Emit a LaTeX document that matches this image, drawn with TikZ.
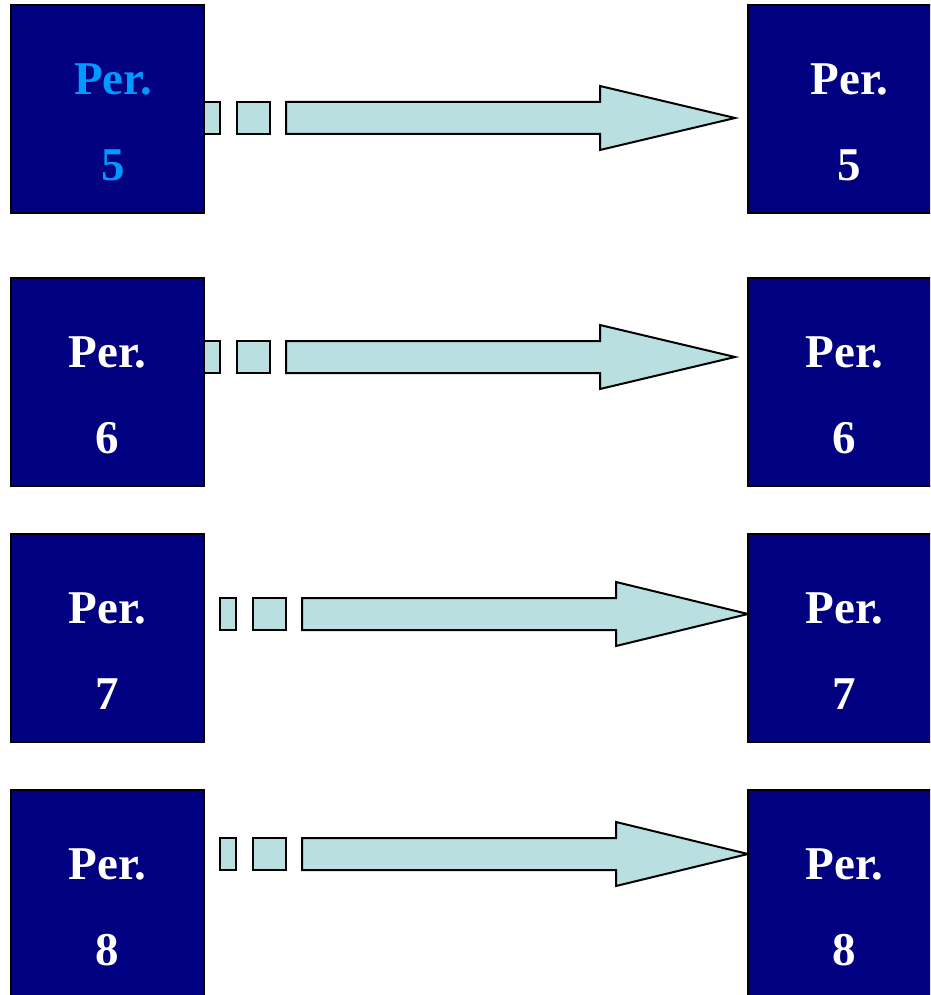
\documentclass[tikz,border=0pt]{standalone}
\usepackage{fontspec}
\setmainfont{Liberation Serif}
\usetikzlibrary{positioning,calc}

\definecolor{pernavy}{RGB}{0,0,128}
\definecolor{perarrow}{RGB}{185,223,225}
\definecolor{perblue}{RGB}{0,153,255}

\tikzset{
  perbox/.style={draw=black, line width=2pt, fill=pernavy, minimum width=193pt,
    minimum height=208pt, inner sep=0pt, outer sep=0pt},
  pertext/.style={text=white, font=\fontsize{47}{86}\selectfont\bfseries,
    align=center, inner sep=0pt},
  blockarrow/.style={draw=black, line width=2pt, fill=perarrow, line join=miter},
}

\begin{document}
\begin{tikzpicture}[x=1pt,y=-1pt]
  \useasboundingbox (0,0) rectangle (930,995);
  \clip (0,0) rectangle (930,995);

  % periods on the left
  \node (l5) [perbox] at (107.5,109) {};
  \node (l6) [perbox,below=65pt of l5] {};
  \node (l7) [perbox,below=48pt of l6] {};
  \node (l8) [perbox,below=48pt of l7] {};

  % periods on the right
  \node (r5) [perbox,right=544pt of l5] {};
  \node (r6) [perbox,right=544pt of l6] {};
  \node (r7) [perbox,right=544pt of l7] {};
  \node (r8) [perbox,right=544pt of l8] {};

  \node (tl5) [pertext,text=perblue] at ($(l5.center)+(5.5,13)$) {Per.\\5};
  \node (tl6) [pertext] at ($(l6.center)+(0,13)$) {Per.\\6};
  \node (tl7) [pertext] at ($(l7.center)+(0,13)$) {Per.\\7};
  \node (tl8) [pertext] at ($(l8.center)+(0,13)$) {Per.\\8};
  \node (tr5) [pertext] at ($(r5.center)+(5,13)$) {Per.\\5};
  \node (tr6) [pertext] at ($(r6.center)+(0,13)$) {Per.\\6};
  \node (tr7) [pertext] at ($(r7.center)+(0,13)$) {Per.\\7};
  \node (tr8) [pertext] at ($(r8.center)+(0,13)$) {Per.\\8};

  % dashed block arrows
  \foreach \n/\dy/\dx/\gap in {5/9/0/13, 6/-25/0/13, 7/-24/16/0, 8/-40/16/0} {
    \coordinate (a\n) at ($(l\n.east)+(\dx,\dy)$);
    \coordinate (t\n) at ($(a\n -| r\n.west)+(-\gap,0)$);
    \draw[blockarrow] ($(a\n)+(0,-16)$) rectangle ($(a\n)+(16,16)$);
    \draw[blockarrow] ($(a\n)+(33,-16)$) rectangle ($(a\n)+(66,16)$);
    \draw[blockarrow] ($(a\n)+(82,-16)$) -- ($(a\n)+(396,-16)$) -- ($(a\n)+(396,-32)$)
      -- (t\n) -- ($(a\n)+(396,32)$) -- ($(a\n)+(396,16)$) -- ($(a\n)+(82,16)$) -- cycle;
  }
\end{tikzpicture}
\end{document}
